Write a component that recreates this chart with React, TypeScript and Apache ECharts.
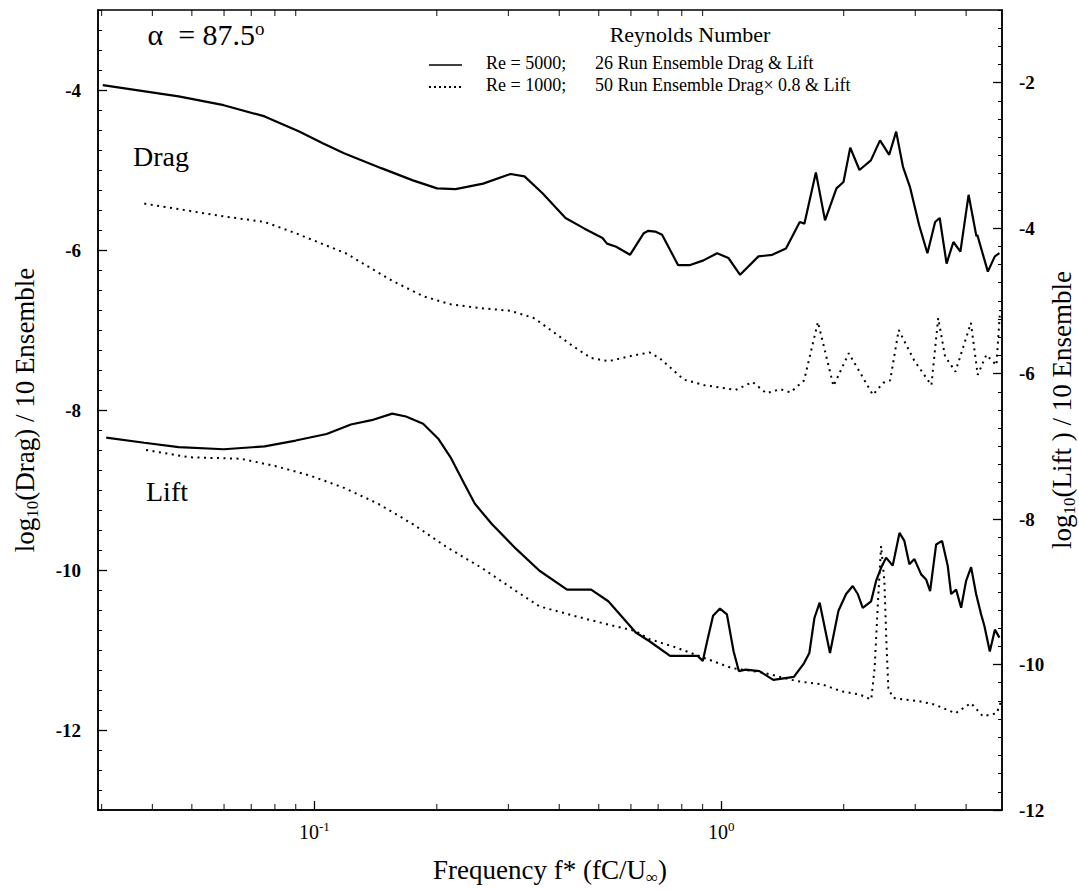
import React, { useEffect, useRef } from "react";
import * as echarts from "echarts";

const FONT = '"Liberation Serif", "Times New Roman", Times, serif';

// Frequency axis range (log scale)
const xMin = 0.0294;
const xMax = 4.9;
const xMinorTicks = [0.03, 0.04, 0.05, 0.06, 0.07, 0.08, 0.09, 0.2, 0.3, 0.4, 0.5, 0.6, 0.7, 0.8, 0.9, 2, 3, 4];

// Left axis: log10(Drag), right axis: log10(Lift)
const dragRange = [-13, -3];
const liftRange = [-12, -1];

// Drag, Re = 5000, 26 run ensemble (solid)
const dragRe5000: [number, number][] = [
  [0.0302, -3.94], [0.0464, -4.08], [0.0599, -4.19], [0.0755, -4.33], [0.0918, -4.52], [0.1052, -4.67],
  [0.1183, -4.79], [0.1466, -4.98], [0.1747, -5.13], [0.2003, -5.23], [0.2224, -5.24], [0.26, -5.17],
  [0.3036, -5.05], [0.3286, -5.08], [0.3638, -5.29], [0.4144, -5.6], [0.4603, -5.73], [0.5109, -5.85],
  [0.5241, -5.92], [0.5521, -5.96], [0.5969, -6.06], [0.6453, -5.79], [0.6621, -5.76], [0.6884, -5.77],
  [0.7157, -5.81], [0.7839, -6.19], [0.8358, -6.19], [0.9046, -6.13], [0.9775, -6.04], [1.042, -6.1],
  [1.113, -6.31], [1.235, -6.08], [1.335, -6.06], [1.443, -5.98], [1.56, -5.65], [1.602, -5.67],
  [1.709, -5.03], [1.8, -5.63], [1.92, -5.23], [1.998, -5.15], [2.076, -4.72], [2.187, -5.0],
  [2.333, -4.88], [2.457, -4.63], [2.588, -4.81], [2.692, -4.52], [2.798, -4.96], [2.91, -5.21],
  [3.066, -5.69], [3.213, -6.04], [3.356, -5.65], [3.444, -5.6], [3.581, -6.17], [3.722, -5.9],
  [3.872, -6.02], [4.056, -5.31], [4.24, -5.83], [4.26, -5.81], [4.523, -6.27], [4.705, -6.08], [4.829, -6.04],
];

// Drag x 0.8, Re = 1000, 50 run ensemble (dotted)
const dragRe1000: [number, number][] = [
  [0.0382, -5.42], [0.0599, -5.58], [0.0755, -5.65], [0.09, -5.79], [0.1194, -6.04], [0.1548, -6.38],
  [0.1856, -6.58], [0.2168, -6.68], [0.26, -6.73], [0.3036, -6.76], [0.3458, -6.85], [0.3577, -6.9],
  [0.4345, -7.21], [0.4789, -7.35], [0.528, -7.39], [0.5932, -7.33], [0.6665, -7.28], [0.7054, -7.35],
  [0.8096, -7.62], [0.9096, -7.69], [1.084, -7.75], [1.194, -7.65], [1.292, -7.79], [1.396, -7.74],
  [1.48, -7.78], [1.599, -7.63], [1.729, -6.9], [1.888, -7.7], [2.059, -7.29], [2.36, -7.81],
  [2.502, -7.66], [2.602, -7.63], [2.731, -7.0], [2.98, -7.38], [3.286, -7.69], [3.415, -6.85],
  [3.55, -7.33], [3.765, -7.52], [4.109, -6.91], [4.271, -7.56], [4.485, -7.31], [4.748, -7.44], [4.848, -6.75],
];

// Lift, Re = 5000 (solid), right axis
const liftRe5000: [number, number][] = [
  [0.0308, -6.88], [0.0382, -6.95], [0.0464, -7.01], [0.0599, -7.04], [0.0755, -7.0], [0.09, -6.92],
  [0.1072, -6.83], [0.123, -6.7], [0.1383, -6.64], [0.1554, -6.55], [0.168, -6.59], [0.1851, -6.69],
  [0.202, -6.9], [0.2162, -7.15], [0.234, -7.52], [0.2481, -7.79], [0.2734, -8.07], [0.3133, -8.41],
  [0.3577, -8.71], [0.418, -8.97], [0.4789, -8.97], [0.528, -9.13], [0.6167, -9.56], [0.6665, -9.68],
  [0.7488, -9.88], [0.8096, -9.88], [0.8743, -9.88], [0.9012, -9.95], [0.9279, -9.63], [0.9552, -9.33],
  [0.9931, -9.23], [1.033, -9.31], [1.073, -9.82], [1.105, -10.09], [1.149, -10.07], [1.242, -10.09],
  [1.343, -10.21], [1.509, -10.17], [1.599, -9.98], [1.647, -9.84], [1.695, -9.36], [1.746, -9.15],
  [1.851, -9.84], [1.942, -9.26], [2.028, -9.03], [2.105, -8.92], [2.166, -9.03], [2.228, -9.22],
  [2.336, -9.13], [2.403, -8.85], [2.472, -8.67], [2.543, -8.53], [2.64, -8.64], [2.743, -8.19],
  [2.82, -8.3], [2.901, -8.62], [2.985, -8.55], [3.101, -8.76], [3.189, -8.83], [3.262, -8.99],
  [3.375, -8.35], [3.491, -8.3], [3.604, -8.64], [3.674, -9.03], [3.78, -8.97], [3.888, -9.22],
  [3.999, -8.85], [4.114, -8.66], [4.232, -9.03], [4.354, -9.31], [4.436, -9.47], [4.573, -9.82],
  [4.707, -9.52], [4.829, -9.63],
];

// Lift, Re = 1000 (dotted), right axis
const liftRe1000: [number, number][] = [
  [0.0386, -7.05], [0.0492, -7.15], [0.0659, -7.17], [0.0801, -7.27], [0.0974, -7.4], [0.1183, -7.57],
  [0.1437, -7.79], [0.1747, -8.07], [0.2122, -8.39], [0.2576, -8.67], [0.3133, -8.99], [0.3577, -9.2],
  [0.4345, -9.33], [0.528, -9.45], [0.6167, -9.54], [0.6665, -9.65], [0.7787, -9.77], [0.9096, -9.91],
  [1.063, -10.05], [1.267, -10.11], [1.539, -10.23], [1.764, -10.27], [1.981, -10.37], [2.183, -10.41],
  [2.338, -10.48], [2.383, -10.05], [2.429, -9.13], [2.472, -8.37], [2.518, -8.85], [2.547, -9.68],
  [2.576, -10.34], [2.651, -10.46], [2.811, -10.48], [3.04, -10.5], [3.35, -10.55], [3.765, -10.67],
  [4.109, -10.53], [4.398, -10.71], [4.755, -10.67], [4.894, -10.48],
];

const legendRows = [
  { re: "Re = 5000;", desc: "26 Run Ensemble Drag & Lift", dotted: false },
  { re: "Re = 1000;", desc: "50 Run Ensemble Drag× 0.8 & Lift", dotted: true },
];

const DOT: number[] = [2, 4.5];

export default function App() {
  const ref = useRef<HTMLDivElement>(null);

  useEffect(() => {
    if (!ref.current) return;
    const chart = echarts.init(ref.current, null, { renderer: "svg" });

    const txt = { fontFamily: FONT, color: "#000" };
    const supRich = {
      b: { ...txt, fontSize: 20, lineHeight: 24 },
      s: { ...txt, fontSize: 13, lineHeight: 13, verticalAlign: "top" },
    };
    const subRich = {
      sub: { ...txt, fontSize: 17, lineHeight: 14, verticalAlign: "bottom" },
    };
    const tickLabel = { ...txt, fontSize: 19, fontWeight: "bold" };

    const lineBase = {
      type: "line",
      showSymbol: false,
      symbol: "none",
      smooth: false,
      silent: true,
      xAxisIndex: 0,
    };

    const graphic: any[] = [
      {
        type: "text",
        x: 206,
        y: 34,
        style: {
          text: "α  = 87.5{s|o}",
          fontFamily: FONT,
          fontSize: 30,
          fill: "#000",
          align: "center",
          verticalAlign: "middle",
          rich: { s: { fontFamily: FONT, fontSize: 19, lineHeight: 19, verticalAlign: "top", fill: "#000" } },
        },
      },
      {
        type: "text",
        x: 690,
        y: 34,
        style: { text: "Reynolds Number", fontFamily: FONT, fontSize: 22, fill: "#000", align: "center", verticalAlign: "middle" },
      },
      {
        type: "text",
        x: 133,
        y: 156,
        style: { text: "Drag", fontFamily: FONT, fontSize: 28, fill: "#000", align: "left", verticalAlign: "middle" },
      },
      {
        type: "text",
        x: 146,
        y: 491,
        style: { text: "Lift", fontFamily: FONT, fontSize: 28, fill: "#000", align: "left", verticalAlign: "middle" },
      },
    ];
    legendRows.forEach((row, i) => {
      const y = 63 + i * 22;
      graphic.push({
        type: "line",
        shape: { x1: 429, y1: y + 2, x2: 462, y2: y + 2 },
        style: { stroke: "#000", lineWidth: row.dotted ? 1.8 : 1.6, lineDash: row.dotted ? [2, 3] : null },
      });
      graphic.push({
        type: "text",
        x: 486,
        y,
        style: { text: row.re, fontFamily: FONT, fontSize: 18, fill: "#000", align: "left", verticalAlign: "middle" },
      });
      graphic.push({
        type: "text",
        x: 595,
        y,
        style: { text: row.desc, fontFamily: FONT, fontSize: 18, fill: "#000", align: "left", verticalAlign: "middle" },
      });
    });

    const option: any = {
      animation: false,
      backgroundColor: "#fff",
      textStyle: { fontFamily: FONT },
      grid: {
        left: 98,
        right: 77,
        top: 10,
        bottom: 79,
        show: true,
        borderColor: "#000",
        borderWidth: 1.5,
        backgroundColor: "transparent",
        containLabel: false,
        outerBoundsMode: "none",
      },
      xAxis: {
        type: "log",
        logBase: 10,
        min: xMin,
        max: xMax,
        axisLine: { show: true, lineStyle: { color: "#000", width: 1.5 } },
        axisTick: { show: true, inside: true, length: 9, lineStyle: { color: "#000", width: 1.3 } },
        minorTick: { show: false },
        splitLine: { show: false },
        axisLabel: {
          showMinLabel: false,
          showMaxLabel: false,
          margin: 10,
          formatter: (v: number) => `{b|10}{s|${Math.round(Math.log10(v))}}`,
          rich: supRich,
        },
        name: "Frequency f* (fC/U{sub|∞})",
        nameLocation: "middle",
        nameGap: 44,
        nameMoveOverlap: false,
        nameTextStyle: { ...txt, fontSize: 27, lineHeight: 32, rich: subRich },
      },
      yAxis: [
        {
          type: "value",
          min: dragRange[0],
          max: dragRange[1],
          splitNumber: 5,
          position: "left",
          axisLine: { show: true, lineStyle: { color: "#000", width: 1.5 } },
          axisTick: { show: true, inside: true, length: 9, lineStyle: { color: "#000", width: 1.3 } },
          splitLine: { show: false },
          axisLabel: { ...tickLabel, showMinLabel: false, showMaxLabel: false, margin: 17 },
          name: "log{sub|10}(Drag) / 10 Ensemble",
          nameLocation: "middle",
          nameRotate: 90,
          nameGap: 57,
          nameMoveOverlap: false,
          nameTextStyle: { ...txt, fontSize: 27, lineHeight: 32, rich: subRich },
        },
        {
          type: "value",
          min: liftRange[0],
          max: liftRange[1],
          interval: 2,
          position: "right",
          axisLine: { show: true, lineStyle: { color: "#000", width: 1.5 } },
          axisTick: { show: true, inside: true, length: 9, lineStyle: { color: "#000", width: 1.3 } },
          splitLine: { show: false },
          axisLabel: { ...tickLabel, showMinLabel: true, showMaxLabel: false, margin: 17 },
          name: "log{sub|10}(Lift ) / 10 Ensemble",
          nameLocation: "middle",
          nameRotate: 90,
          nameGap: 44,
          nameMoveOverlap: false,
          nameTextStyle: { ...txt, fontSize: 27, lineHeight: 32, rich: subRich },
        },
        {
          type: "value",
          min: dragRange[0],
          max: dragRange[1],
          interval: 0.25,
          position: "left",
          axisLine: { show: false },
          axisTick: { show: true, inside: true, length: 4, lineStyle: { color: "#000", width: 1 } },
          axisLabel: { show: false },
          splitLine: { show: false },
        },
        {
          type: "value",
          min: liftRange[0],
          max: liftRange[1],
          interval: 0.25,
          position: "right",
          axisLine: { show: false },
          axisTick: { show: true, inside: true, length: 4, lineStyle: { color: "#000", width: 1 } },
          axisLabel: { show: false },
          splitLine: { show: false },
        },
      ],
      series: [
        {
          ...lineBase,
          name: "Drag Re = 5000",
          yAxisIndex: 0,
          data: dragRe5000,
          lineStyle: { color: "#000", width: 2.2 },
        },
        {
          ...lineBase,
          name: "Drag Re = 1000 (x0.8)",
          yAxisIndex: 0,
          data: dragRe1000,
          lineStyle: { color: "#000", width: 2, type: DOT },
        },
        {
          ...lineBase,
          name: "Lift Re = 5000",
          yAxisIndex: 1,
          data: liftRe5000,
          lineStyle: { color: "#000", width: 2.2 },
        },
        {
          ...lineBase,
          name: "Lift Re = 1000",
          yAxisIndex: 1,
          data: liftRe1000,
          lineStyle: { color: "#000", width: 2, type: DOT },
        },
        {
          type: "scatter",
          name: "minor ticks bottom",
          xAxisIndex: 0,
          yAxisIndex: 0,
          silent: true,
          symbol: "rect",
          symbolSize: [1.2, 6],
          symbolOffset: [0, -3],
          itemStyle: { color: "#000" },
          data: xMinorTicks.map((f) => [f, dragRange[0]]),
        },
        {
          type: "scatter",
          name: "minor ticks top",
          xAxisIndex: 0,
          yAxisIndex: 0,
          silent: true,
          symbol: "rect",
          symbolSize: [1.2, 6],
          symbolOffset: [0, 3],
          itemStyle: { color: "#000" },
          data: xMinorTicks.map((f) => [f, dragRange[1]]),
        },
      ],
      graphic,
    };

    chart.setOption(option);
    return () => {
      chart.dispose();
    };
  }, []);

  return (
    <div
      ref={ref}
      style={{ position: "absolute", left: 0, top: 0, width: 1079, height: 889, background: "#fff" }}
    />
  );
}
